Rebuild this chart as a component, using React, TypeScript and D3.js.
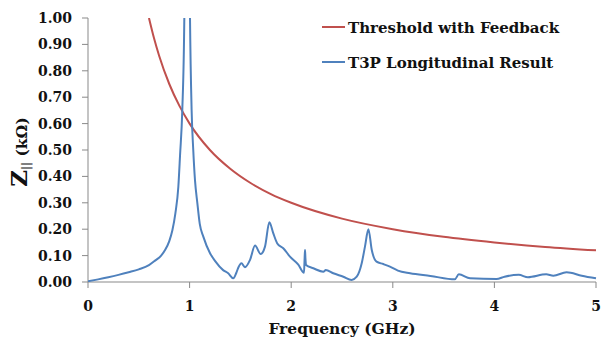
import React from "react";
import * as d3 from "d3";

const xTicks = [0, 1, 2, 3, 4, 5];
const yTicks = [0, 0.1, 0.2, 0.3, 0.4, 0.5, 0.6, 0.7, 0.8, 0.9, 1.0];

const thresholdFreq = [0.6, 0.65, 0.7, 0.8, 0.9, 1.0, 1.2, 1.4, 1.6, 1.8, 2.0, 2.5, 3.0, 3.5, 4.0, 4.5, 5.0];
const thresholdVal = [1.0, 0.923, 0.857, 0.75, 0.667, 0.6, 0.5, 0.429, 0.375, 0.333, 0.3, 0.24, 0.2, 0.171, 0.15, 0.133, 0.12];

const resultFreq = [
  0, 0.1, 0.2, 0.3, 0.4, 0.5, 0.6, 0.66, 0.72, 0.76, 0.8, 0.83, 0.86, 0.889, 0.906, 0.928, 0.948, 0.965, 0.975,
  0.985, 1.004, 1.02, 1.036, 1.053, 1.076, 1.1, 1.135, 1.2, 1.25, 1.33, 1.38, 1.43, 1.46, 1.48, 1.51, 1.545, 1.594,
  1.644, 1.7, 1.742, 1.785, 1.824, 1.863, 1.922, 1.988, 2.07, 2.126, 2.132, 2.136, 2.14, 2.146, 2.218, 2.316, 2.34,
  2.414, 2.513, 2.595, 2.645, 2.694, 2.726, 2.76, 2.793, 2.84, 2.906, 2.972, 3.05, 3.17, 3.37, 3.61, 3.65, 3.76,
  4.02, 4.1, 4.24, 4.33, 4.51, 4.58, 4.71, 4.86, 5.0,
];
const resultVal = [
  0.003, 0.01, 0.018, 0.027, 0.037, 0.048, 0.064, 0.081, 0.1, 0.122, 0.155, 0.195, 0.26, 0.36, 0.48, 0.65, 1.0, 2.0, 3.0,
  2.0, 1.0, 0.65, 0.5, 0.386, 0.3, 0.22, 0.172, 0.11, 0.08, 0.045, 0.033, 0.014, 0.035, 0.055, 0.071, 0.056, 0.083,
  0.138, 0.106, 0.134, 0.226, 0.184, 0.146, 0.128, 0.096, 0.066, 0.035, 0.09, 0.121, 0.09, 0.064, 0.052, 0.039, 0.045,
  0.033, 0.02, 0.008, 0.02, 0.071, 0.134, 0.2, 0.121, 0.077, 0.068, 0.058, 0.043, 0.033, 0.023, 0.01, 0.029, 0.014,
  0.011, 0.02, 0.027, 0.018, 0.029, 0.024, 0.037, 0.024, 0.014,
];

const W = 608;
const H = 344;
const left = 88;
const right = 596;
const top = 18;
const bottom = 282;
const FONT = "'DejaVu Serif', serif";
const AXIS = "#898989";
const RED = "#C0504D";
const BLUE = "#4F81BD";
const txt = { fontFamily: FONT, fontWeight: 700 as const };

export default function App() {
  const x = d3.scaleLinear().domain([0, 5]).range([left, right]);
  const y = d3.scaleLinear().domain([0, 1]).range([bottom, top]);
  const line = d3
    .line<[number, number]>()
    .x((d) => x(d[0]))
    .y((d) => y(d[1]))
    .curve(d3.curveMonotoneX);
  const red = line(thresholdFreq.map((f, i) => [f, thresholdVal[i]]) as [number, number][]) || "";
  const blue = line(resultFreq.map((f, i) => [f, resultVal[i]]) as [number, number][]) || "";

  return (
    <svg
      width={W}
      height={H}
      style={{ position: "absolute", left: 0, top: 0, background: "#fff" }}
    >
      <defs>
        <clipPath id="plot">
          <rect x={left} y={top} width={right - left + 2} height={bottom - top} />
        </clipPath>
      </defs>
      <line x1={left} x2={left} y1={top} y2={bottom} stroke={AXIS} strokeWidth={1} />
      <line x1={left} x2={right} y1={bottom} y2={bottom} stroke={AXIS} strokeWidth={1} />
      {yTicks.map((t) => (
        <g key={"y" + t}>
          <line x1={left - 6} x2={left} y1={y(t)} y2={y(t)} stroke={AXIS} />
          <text x={72} y={y(t) + 5} textAnchor="end" fontSize={14} fill="#111" style={txt}>
            {t.toFixed(2)}
          </text>
        </g>
      ))}
      {xTicks.map((t) => (
        <g key={"x" + t}>
          <line x1={x(t)} x2={x(t)} y1={bottom} y2={bottom + 6} stroke={AXIS} />
          <text x={x(t)} y={311} textAnchor="middle" fontSize={14} fill="#111" style={txt}>
            {t}
          </text>
        </g>
      ))}
      <text x={342} y={334} textAnchor="middle" fontSize={15.5} fill="#111" style={txt}>
        Frequency (GHz)
      </text>
      <text transform="translate(27,152) rotate(-90)" textAnchor="middle" fill="#111" style={txt}>
        <tspan fontSize={23}>Z</tspan>
        <tspan fontSize={11} dy={3}>||</tspan>
        <tspan fontSize={15.5} dy={-3}> (kΩ)</tspan>
      </text>
      <g clipPath="url(#plot)">
        <path d={red} fill="none" stroke={RED} strokeWidth={2} />
        <path d={blue} fill="none" stroke={BLUE} strokeWidth={2} />
      </g>
      <line x1={322} x2={345} y1={27} y2={27} stroke={RED} strokeWidth={2} />
      <text x={348} y={33} fontSize={15} fill="#111" style={txt}>
        Threshold with Feedback
      </text>
      <line x1={322} x2={345} y1={62} y2={62} stroke={BLUE} strokeWidth={2} />
      <text x={348} y={68} fontSize={15} fill="#111" style={txt}>
        T3P Longitudinal Result
      </text>
    </svg>
  );
}
